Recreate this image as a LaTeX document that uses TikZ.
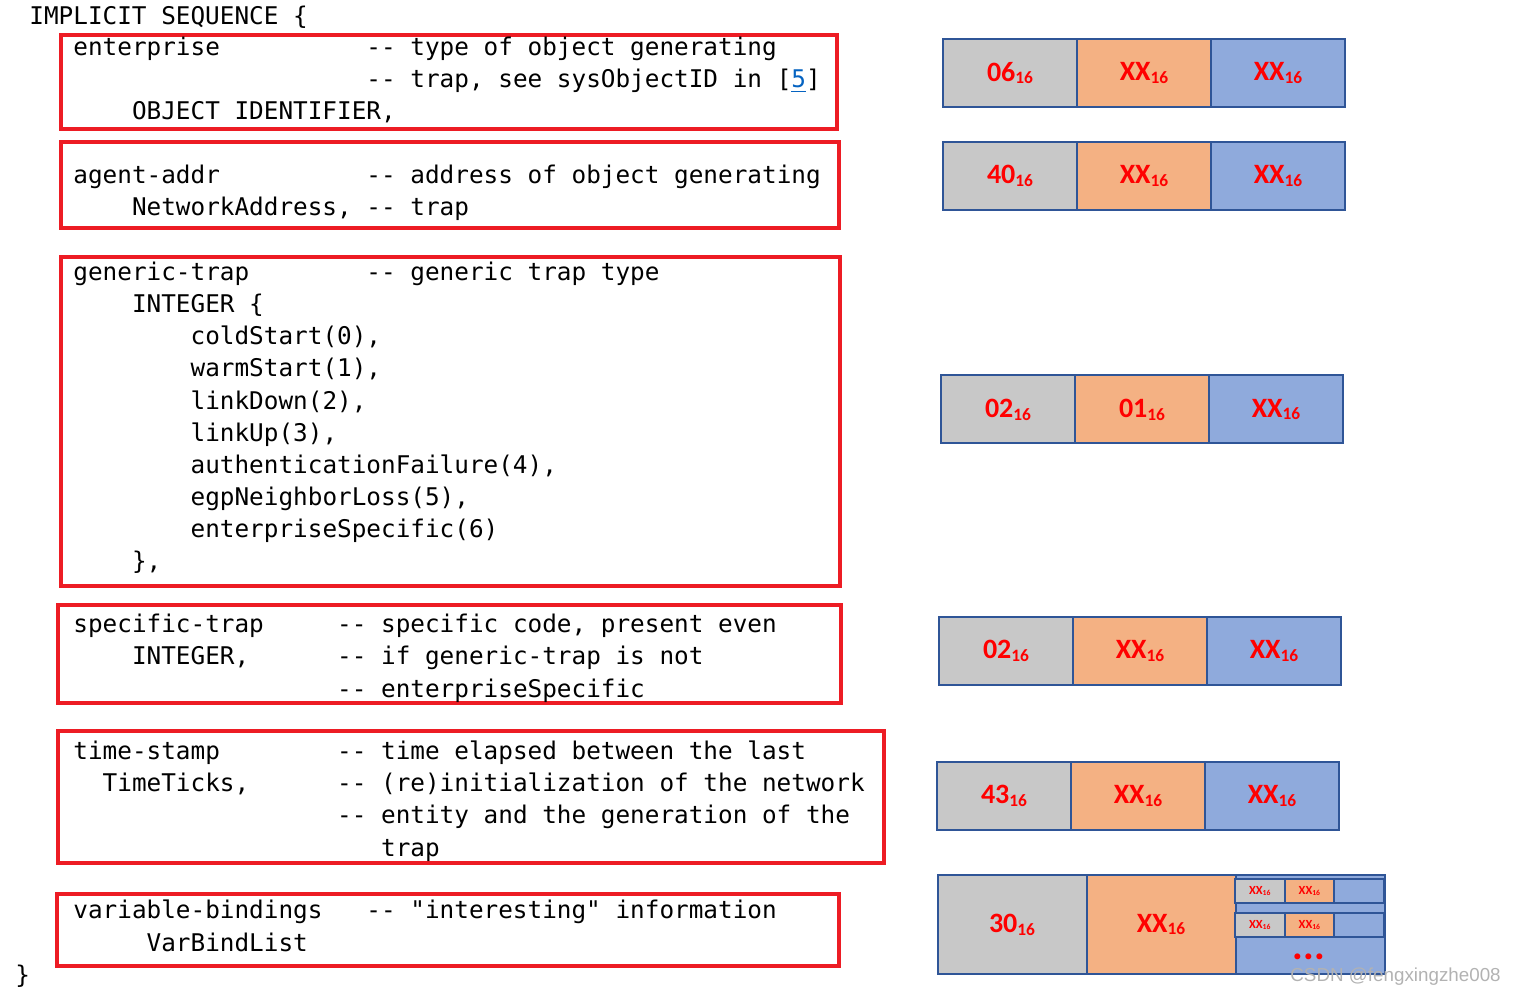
\documentclass[tikz,border=0pt]{standalone}
\usepackage{fontspec}
\setmonofont{DejaVu Sans Mono}
\newfontfamily\hexfont{Carlito}
\newfontfamily\markfont{Liberation Sans}
\usepackage{tikz}
\usetikzlibrary{positioning,fit}

\definecolor{framered}{RGB}{237,28,36}
\definecolor{cellgray}{RGB}{200,200,200}
\definecolor{cellorange}{RGB}{244,177,131}
\definecolor{cellblue}{RGB}{143,170,220}
\definecolor{cellline}{RGB}{47,85,151}
\definecolor{hexred}{RGB}{255,0,0}
\definecolor{linkblue}{RGB}{5,99,193}

% n blank columns of the code font
\newcommand{\sk}[1]{\hspace*{\dimexpr#1\fontcharwd\font`\0\relax}}
% hex byte with base 16 subscript
\newcommand{\hexv}[1]{#1\raisebox{-0.1em}{\scalebox{0.62}{16}}}

\begin{document}
\begin{tikzpicture}[x=0.5pt, y=-0.5pt,
  code/.style={font=\ttfamily\fontsize{12.17}{16.05}\selectfont, align=left, inner sep=0pt, anchor=base west},
  frame/.style={draw=framered, line width=2pt, inner sep=0pt},
  cell/.style={draw=cellline, line width=1pt, inner sep=0pt, outer sep=0pt, minimum width=67pt, minimum height=34pt,
               font=\hexfont\bfseries\fontsize{14}{16}\selectfont, text=hexred},
  bigcell/.style={cell, minimum width=74.5pt, minimum height=49.5pt},
  minicell/.style={cell, minimum width=24.8pt, minimum height=12pt, font=\hexfont\bfseries\fontsize{6.2}{7}\selectfont}]

\useasboundingbox (0,0) rectangle (1516,994);

% ASN.1 text (anchored at the baseline of the last line)
\node[code] (seq) at (29,25) {IMPLICIT SEQUENCE \{};

\node[frame, fit={(61,35) (837,129)}] (enterpriseBox) {};
\node[code] (enterprise) at (73,120) {enterprise\sk{10}-- type of object generating\\
  \sk{20}-- trap, see sysObjectID in [{\color{linkblue}\underline{5}}]\\
  \sk{4}OBJECT IDENTIFIER,};

\node[frame, fit={(61,142) (839,228)}] (agentBox) {};
\node[code] (agent) at (73,216) {agent-addr\sk{10}-- address of object generating\\
  \sk{4}NetworkAddress, -- trap};

\node[frame, fit={(61,257) (840,586)}] (genericBox) {};
\node[code] (generic) at (73,569.5) {generic-trap\sk{8}-- generic trap type\\
  \sk{4}INTEGER \{\\
  \sk{8}coldStart(0),\\
  \sk{8}warmStart(1),\\
  \sk{8}linkDown(2),\\
  \sk{8}linkUp(3),\\
  \sk{8}authenticationFailure(4),\\
  \sk{8}egpNeighborLoss(5),\\
  \sk{8}enterpriseSpecific(6)\\
  \sk{4}\},};

\node[frame, fit={(58,605) (841,703)}] (specificBox) {};
\node[code] (specific) at (73,697) {specific-trap\sk{5}-- specific code, present even\\
  \sk{4}INTEGER,\sk{6}-- if generic-trap is not\\
  \sk{18}-- enterpriseSpecific};

\node[frame, fit={(58,731) (884,863)}] (timeBox) {};
\node[code] (time) at (73,856) {time-stamp\sk{8}-- time elapsed between the last\\
  \sk{2}TimeTicks,\sk{6}-- (re)initialization of the network\\
  \sk{18}-- entity and the generation of the\\
  \sk{21}trap};

\node[frame, fit={(57,894) (839,966)}] (varBox) {};
\node[code] (var) at (73,951) {variable-bindings\sk{3}-- "interesting" information\\
  \sk{5}VarBindList};

\node[code] (seqend) at (15,983) {\}};

% encoded bytes
\node[cell, fill=cellgray] (ent1) at (1010,73) {\hexv{06}};
\node[cell, fill=cellorange, right=0pt of ent1] (ent2) {\hexv{XX}};
\node[cell, fill=cellblue, right=0pt of ent2] (ent3) {\hexv{XX}};

\node[cell, fill=cellgray] (agent1) at (1010,176) {\hexv{40}};
\node[cell, fill=cellorange, right=0pt of agent1] (agent2) {\hexv{XX}};
\node[cell, fill=cellblue, right=0pt of agent2] (agent3) {\hexv{XX}};

\node[cell, fill=cellgray] (gen1) at (1008,409.5) {\hexv{02}};
\node[cell, fill=cellorange, right=0pt of gen1] (gen2) {\hexv{01}};
\node[cell, fill=cellblue, right=0pt of gen2] (gen3) {\hexv{XX}};

\node[cell, fill=cellgray] (spec1) at (1006,651) {\hexv{02}};
\node[cell, fill=cellorange, right=0pt of spec1] (spec2) {\hexv{XX}};
\node[cell, fill=cellblue, right=0pt of spec2] (spec3) {\hexv{XX}};

\node[cell, fill=cellgray] (time1) at (1004,796) {\hexv{43}};
\node[cell, fill=cellorange, right=0pt of time1] (time2) {\hexv{XX}};
\node[cell, fill=cellblue, right=0pt of time2] (time3) {\hexv{XX}};

\node[bigcell, fill=cellgray] (var1) at (1012,924.5) {\hexv{30}};
\node[bigcell, fill=cellorange, right=0pt of var1] (var2) {\hexv{XX}};
\node[bigcell, fill=cellblue, right=0pt of var2] (var3) {};

\node[minicell, fill=cellgray] (bindA1) at (1259.8,891) {\hexv{XX}};
\node[minicell, fill=cellorange, right=0pt of bindA1] (bindA2) {\hexv{XX}};
\node[minicell, fill=cellblue, right=0pt of bindA2] (bindA3) {};

\node[minicell, fill=cellgray] (bindB1) at (1259.8,925) {\hexv{XX}};
\node[minicell, fill=cellorange, right=0pt of bindB1] (bindB2) {\hexv{XX}};
\node[minicell, fill=cellblue, right=0pt of bindB2] (bindB3) {};

\node[font=\hexfont\bfseries\fontsize{20}{20}\selectfont, text=hexred, anchor=base, inner sep=0pt] (more) at (1309,959) {...};

\node[font=\markfont\fontsize{9.4}{11}\selectfont, text=gray!60, anchor=base west, inner sep=0pt] (mark) at (1290,981) {CSDN @fengxingzhe008};

\end{tikzpicture}
\end{document}
